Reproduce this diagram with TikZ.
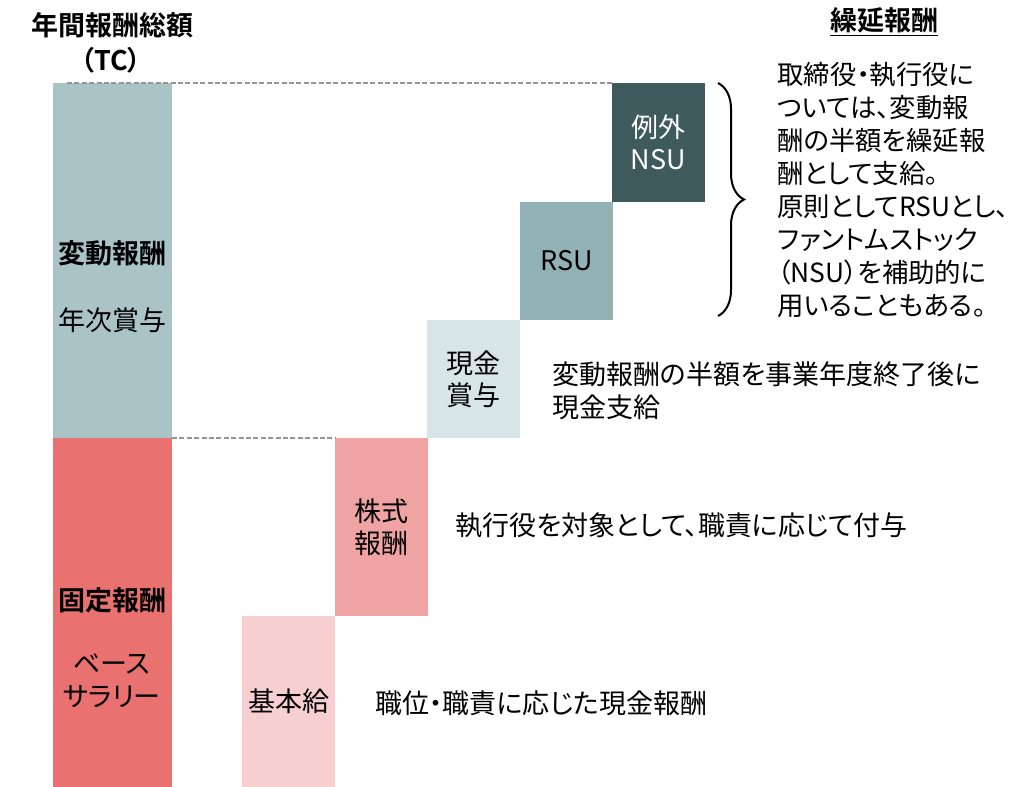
\documentclass[tikz,border=0pt]{standalone}
\usepackage{fontspec}
\setmainfont{Noto Sans CJK JP}[BoldFont={Noto Sans CJK JP Bold}, RawFeature=+palt]
\usetikzlibrary{decorations.pathreplacing}

\definecolor{bleuvar}{RGB}{169,195,199}
\definecolor{rougefix}{RGB}{233,113,112}
\definecolor{rosebase}{RGB}{248,207,208}
\definecolor{roseaction}{RGB}{240,163,163}
\definecolor{bleucash}{RGB}{215,229,231}
\definecolor{bleursu}{RGB}{145,177,181}
\definecolor{vertnsu}{RGB}{62,90,92}
\definecolor{gristrait}{RGB}{150,150,150}

\tikzset{
  bloc/.style={anchor=north west, inner sep=0pt, outer sep=0pt, align=center,
    minimum width=46.5pt, font=\fontsize{13.5}{16}\selectfont},
  texte/.style={inner sep=0pt, font=\fontsize{13.5}{16.5}\selectfont},
  gras/.style={texte, font=\fontsize{13.5}{16.5}\selectfont\bfseries},
  pointille/.style={gristrait, line width=0.8pt, dash pattern=on 2.5pt off 1.2pt},
}

\begin{document}
\begin{tikzpicture}[x=0.5pt,y=-0.5pt]
         % Cadre de l'image (en pixels)
         \useasboundingbox (0,0) rectangle (1013,787);

         % Barre totale (TC)
         \node[bloc, fill=bleuvar, minimum width=59.5pt, minimum height=177.5pt] (variable) at (53,83) {};
         \node[bloc, fill=rougefix, minimum width=59.5pt, minimum height=174.5pt] (fixe) at (53,438) {};

         % Marches de l'escalier
         \node[bloc, fill=rosebase, minimum height=85.5pt] (base) at (242,616) {基本給};
         \node[bloc, fill=roseaction, minimum height=89pt] (action) at (335,438) {株式\\報酬};
         \node[bloc, fill=bleucash, minimum height=59pt] (cash) at (427,320) {現金\\賞与};
         \node[bloc, fill=bleursu, minimum height=59pt] (rsu) at (520,202) {RSU};
         \node[bloc, fill=vertnsu, text=white, minimum height=59.5pt] (nsu) at (612,83) {例外\\NSU};

         % Lignes pointillées
         \draw[pointille] ([xshift=7pt]variable.north west) -- (nsu.north west);
         \draw[pointille] (variable.south east) -- (action.north west);

         % Titres
         \node[gras] (titre) at (113,25) {年間報酬総額};
         \node[gras] (tc) at (111,60) {（TC）};
         \node[gras] (differe) at (884,22) {\underline{繰延報酬}};

         % Textes de la barre totale
         \node[gras] (lvar) at (112,253) {変動報酬};
         \node[texte] (lbonus) at (112,320) {年次賞与};
         \node[gras] (lfixe) at (112,600) {固定報酬};
         \node[texte, align=center] (lsalaire) at (112,681) {ベース\\サラリー};

         % Descriptions
         \node[texte, anchor=west, align=left] (dcash) at (552,391) {変動報酬の半額を事業年度終了後に\\現金支給};
         \node[texte, anchor=west] (daction) at (455,525) {執行役を対象として、職責に応じて付与};
         \node[texte, anchor=west] (dbase) at (375,703) {職位・職責に応じた現金報酬};

         % Accolade et texte du différé
         \coordinate (haut) at (718,83);
         \coordinate (bas) at (718,316);
         \draw[line width=1pt, decorate, decoration={brace, amplitude=13pt}] (haut) -- (bas);
         \node[texte, font=\fontsize{13.2}{16.5}\selectfont, anchor=west, align=left] (ddiffere) at (777,190) {取締役・執行役に\\ついては、変動報\\酬の半額を繰延報\\酬として支給。\\原則としてRSUとし、\\ファントムストック\\（NSU）を補助的に\\用いることもある。};
      \end{tikzpicture}
\end{document}
